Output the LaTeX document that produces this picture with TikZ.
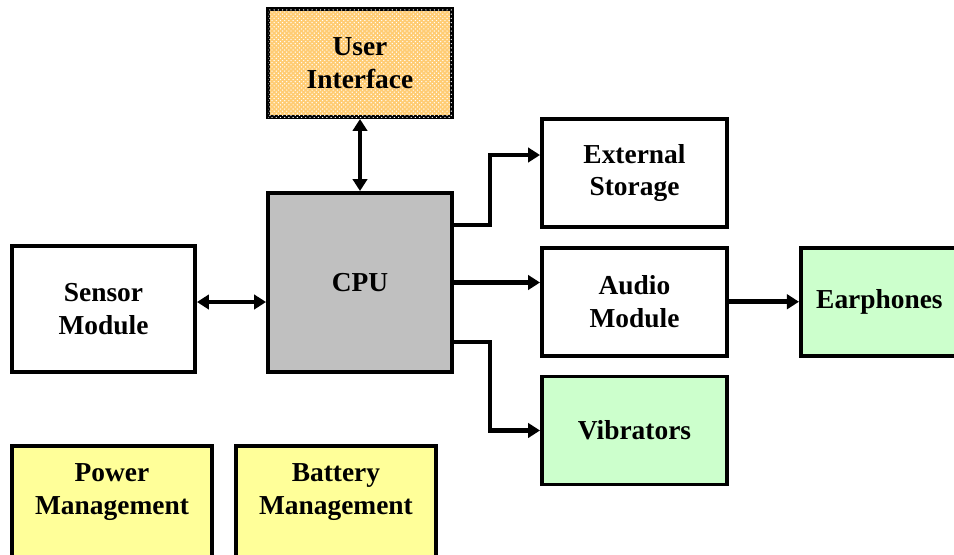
\documentclass[tikz,border=0pt]{standalone}
\usepackage{fontspec}
\setmainfont{Liberation Serif}
\usetikzlibrary{arrows.meta, positioning, patterns}
\definecolor{uiorange}{HTML}{FFCC73}
\definecolor{cpugray}{HTML}{C0C0C0}
\definecolor{outgreen}{HTML}{CCFFCC}
\definecolor{pwryellow}{HTML}{FFFF99}
\tikzset{
    box/.style={draw=black, line width=2.8pt, fill=white, align=center, inner sep=0pt, font=\fontsize{19.5}{23}\selectfont\bfseries, minimum width=4.625cm, minimum height=2.7cm},
    arrow/.style={-{Triangle[length=0.3cm,width=0.36cm]}, line width=3.4pt},
    duoarrow/.style={{Triangle[length=0.3cm,width=0.36cm]}-{Triangle[length=0.3cm,width=0.36cm]}, line width=3.4pt}
}

\begin{document}
\begin{tikzpicture}
        \path[use as bounding box, fill=white] (0,0) rectangle (23.85,-13.85);
        \node [box, fill=uiorange, postaction={pattern=crosshatch dots, pattern color=white}, minimum width=4.6cm] (ui) at (9.0,-1.575) {User\\Interface};
        \node [box, fill=cpugray, minimum width=4.6cm, minimum height=4.475cm] (cpu) at (9.0,-7.0625) {CPU};
        \node [box] (ext) at (15.8625,-4.325) {External\\Storage};
        \node [box, below=0.42cm of ext] (audio) {Audio\\Module};
        \node [box, fill=outgreen, below=0.42cm of audio] (vib) {Vibrators};
        \node [box, fill=outgreen, minimum width=3.925cm, right=1.75cm of audio] (ear) {Earphones};
        \node [box, minimum width=4.575cm, minimum height=3.15cm] (sensor) at (2.5875,-7.725) {Sensor\\Module};
        \node [box, fill=pwryellow, minimum width=5cm, minimum height=3cm, text depth=0.85cm] (power) at (2.8,-12.65) {Power\\Management};
        \node [box, fill=pwryellow, minimum width=5cm, minimum height=3cm, text depth=0.85cm, right=0.5cm of power] (battery) {Battery\\Management};
        \draw [duoarrow] (ui.south) -- (cpu.north);
        \draw [duoarrow] ([yshift=0.175cm]sensor.east) -- ([yshift=0.175cm]sensor.east -| cpu.west);
        \draw [arrow] ([yshift=-0.85cm]cpu.north east) -- ++(0.9,0) |- ([yshift=0.45cm]ext.west);
        \draw [arrow] (cpu.east) -- (cpu.east -| audio.west);
        \draw [arrow] ([yshift=0.8cm]cpu.south east) -- ++(0.9,0) |- (vib.west);
        \draw [arrow] (audio) -- (ear);
    \end{tikzpicture}
\end{document}
